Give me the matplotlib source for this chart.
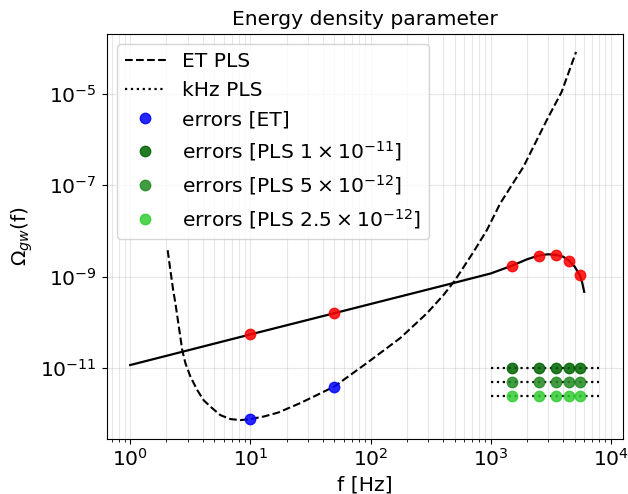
import numpy as np
import matplotlib.pyplot as plt

# ET power-law sensitivity curve, Omega_gw vs frequency
et_f = [2.05, 2.16, 2.28, 2.38, 2.54, 2.71, 2.88, 3.17, 3.6, 4.09, 4.81,
        5.63, 6.83, 8.26, 10, 13, 17, 26, 50, 93, 177, 295, 405, 500, 720,
        930, 1200, 1870, 2920, 3900, 5130]
et_omega = [3.8e-9, 1.38e-9, 5.0e-10, 2.6e-10, 8.1e-11, 2.5e-11, 1.29e-11,
            6.6e-12, 3.4e-12, 2.0e-12, 1.35e-12, 9.5e-13, 7.8e-13, 7.4e-13,
            7.8e-13, 8.9e-13, 1.08e-12, 1.74e-12, 4.0e-12, 1.3e-11, 4.6e-11,
            1.6e-10, 4.0e-10, 8.1e-10, 3.5e-9, 1.05e-8, 4.0e-8, 2.5e-7,
            2.6e-6, 1.1e-5, 8.1e-5]

# signal spectrum
sig_f = [1, 10, 50, 100, 500, 1000, 1500, 2000, 2500, 3000, 3500, 4000,
         4500, 5000, 5500, 5750, 6000]
sig_omega = [1.18e-11, 5.5e-11, 1.6e-10, 2.54e-10, 7.4e-10, 1.18e-9, 1.74e-9,
             2.4e-9, 2.9e-9, 3.1e-9, 3.0e-9, 2.75e-9, 2.24e-9, 1.66e-9,
             1.1e-9, 7.8e-10, 4.7e-10]

# kHz detector PLS levels (flat)
khz_f = [1000, 8000]
khz_levels = [1e-11, 5e-12, 2.5e-12]
khz_labels = [r'errors [PLS $1\times10^{-11}$]',
              r'errors [PLS $5\times10^{-12}$]',
              r'errors [PLS $2.5\times10^{-12}$]']
khz_colors = ['darkgreen', 'forestgreen', 'limegreen']

# points where errors are evaluated
et_pts_f = [10, 50]
et_pts_omega = [7.8e-13, 4.0e-12]
sig_pts_f = [10, 50]
sig_pts_omega = [5.5e-11, 1.6e-10]
khz_pts_f = [1500, 2500, 3500, 4500, 5500]
khz_pts_omega = [1.74e-9, 2.9e-9, 3.0e-9, 2.24e-9, 1.1e-9]

fs = 14.6
a = 0.85

fig = plt.figure(figsize=(6.28, 4.94), dpi=100)
ax = fig.add_axes([0.170, 0.1123, 0.8215, 0.8197])

ax.plot(et_f, et_omega, 'k--', lw=1.5, label='ET PLS')
for i, lev in enumerate(khz_levels):
    ax.plot(khz_f, [lev, lev], 'k:', lw=1.6,
            label='kHz PLS' if i == 0 else None)
ax.plot(sig_f, sig_omega, 'k-', lw=1.6)

ax.plot(et_pts_f, et_pts_omega, 'o', color='blue', ms=7.5, alpha=a,
        label='errors [ET]')
for lev, lab, c in zip(khz_levels, khz_labels, khz_colors):
    ax.plot(khz_pts_f, [lev] * len(khz_pts_f), 'o', color=c, ms=7.5,
            alpha=a, label=lab)
ax.plot(sig_pts_f, sig_pts_omega, 'o', color='red', ms=7.5, alpha=a)
ax.plot(khz_pts_f, khz_pts_omega, 'o', color='red', ms=7.5, alpha=a)

ax.set_xscale('log')
ax.set_yscale('log')
ax.set_yticks([1e-11, 1e-9, 1e-7, 1e-5])
ax.yaxis.set_minor_locator(plt.NullLocator())
ax.grid(True, which='both', axis='x', alpha=0.3)
ax.grid(True, which='major', axis='y', alpha=0.3)
ax.tick_params(labelsize=fs)
ax.set_xlabel('f [Hz]', fontsize=fs)
ax.set_ylabel(r'$\Omega_{gw}$(f)', fontsize=fs)
ax.set_title('Energy density parameter', fontsize=fs)
ax.legend(loc='upper left', fontsize=fs)

fig.savefig('out.png', dpi=100)
